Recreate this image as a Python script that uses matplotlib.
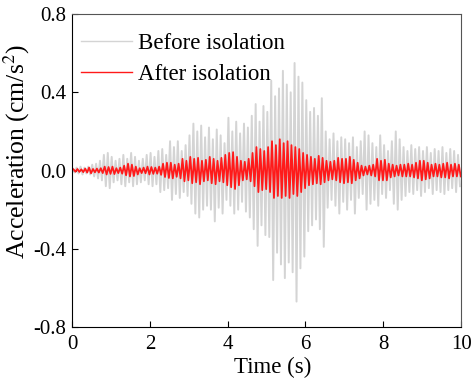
import numpy as np
import matplotlib
matplotlib.use("Agg")
import matplotlib.pyplot as plt

plt.rcParams['font.family'] = ['Liberation Serif', 'DejaVu Serif']
plt.rcParams['mathtext.fontset'] = 'stix'
plt.rcParams['axes.unicode_minus'] = False

# peak values read per 0.1 s bin (0.0-0.1, 0.1-0.2, ... 9.9-10.0)
before_top = [0.01, 0.015, 0.02, 0.015, 0.02, 0.03, 0.035, 0.05, 0.08, 0.09,
              0.07, 0.05, 0.06, 0.08, 0.06, 0.09, 0.07, 0.05, 0.06, 0.08,
              0.09, 0.07, 0.10, 0.11, 0.08, 0.15, 0.12, 0.15, 0.10, 0.13,
              0.18, 0.24, 0.20, 0.23, 0.17, 0.22, 0.16, 0.21, 0.18, 0.14,
              0.27, 0.20, 0.25, 0.19, 0.24, 0.22, 0.28, 0.34, 0.25, 0.33,
              0.30, 0.46, 0.38, 0.42, 0.51, 0.44, 0.40, 0.55, 0.48, 0.45,
              0.36, 0.30, 0.32, 0.28, 0.37, 0.20, 0.16, 0.19, 0.15, 0.17,
              0.16, 0.14, 0.17, 0.12, 0.15, 0.20, 0.18, 0.14, 0.12, 0.18,
              0.13, 0.10, 0.15, 0.20, 0.16, 0.12, 0.10, 0.13, 0.11, 0.12,
              0.10, 0.12, 0.09, 0.11, 0.10, 0.12, 0.09, 0.11, 0.10, 0.08]
before_bot = [-0.01, -0.015, -0.02, -0.015, -0.02, -0.03, -0.04, -0.05, -0.08, -0.09,
              -0.06, -0.05, -0.07, -0.08, -0.06, -0.08, -0.07, -0.06, -0.05, -0.07,
              -0.08, -0.07, -0.11, -0.10, -0.09, -0.15, -0.12, -0.14, -0.11, -0.13,
              -0.17, -0.22, -0.24, -0.20, -0.18, -0.20, -0.26, -0.19, -0.22, -0.15,
              -0.18, -0.22, -0.20, -0.16, -0.21, -0.24, -0.30, -0.385, -0.28, -0.33,
              -0.34, -0.56, -0.42, -0.48, -0.55, -0.47, -0.52, -0.67, -0.50, -0.44,
              -0.31, -0.28, -0.25, -0.30, -0.39, -0.19, -0.15, -0.18, -0.22, -0.16,
              -0.20, -0.15, -0.22, -0.14, -0.12, -0.20, -0.17, -0.15, -0.18, -0.12,
              -0.14, -0.10, -0.17, -0.20, -0.15, -0.13, -0.11, -0.12, -0.10, -0.13,
              -0.11, -0.09, -0.12, -0.10, -0.11, -0.12, -0.10, -0.09, -0.11, -0.08]
after_top = [0.006, 0.008, 0.006, 0.01, 0.015, 0.008, 0.01, 0.012, 0.02, 0.018,
             0.02, 0.012, 0.015, 0.025, 0.035, 0.03, 0.02, 0.012, 0.015, 0.02,
             0.018, 0.015, 0.02, 0.035, 0.04, 0.04, 0.03, 0.035, 0.06, 0.05,
             0.07, 0.06, 0.065, 0.05, 0.055, 0.07, 0.06, 0.05, 0.065, 0.08,
             0.09, 0.094, 0.07, 0.05, 0.045, 0.06, 0.09, 0.12, 0.11, 0.10,
             0.12, 0.15, 0.13, 0.16, 0.14, 0.15, 0.13, 0.12, 0.11, 0.09,
             0.08, 0.07, 0.06, 0.075, 0.065, 0.05, 0.045, 0.05, 0.065, 0.06,
             0.06, 0.07, 0.055, 0.04, 0.025, 0.02, 0.025, 0.03, 0.06, 0.05,
             0.055, 0.035, 0.03, 0.025, 0.03, 0.03, 0.035, 0.03, 0.04, 0.05,
             0.05, 0.04, 0.03, 0.035, 0.03, 0.035, 0.04, 0.03, 0.035, 0.03]
after_bot = [-0.006, -0.007, -0.008, -0.01, -0.014, -0.009, -0.01, -0.013, -0.02, -0.017,
             -0.018, -0.013, -0.016, -0.024, -0.03, -0.028, -0.02, -0.013, -0.014, -0.02,
             -0.017, -0.016, -0.022, -0.033, -0.038, -0.04, -0.032, -0.04, -0.055, -0.05,
             -0.065, -0.06, -0.07, -0.055, -0.05, -0.065, -0.07, -0.055, -0.06, -0.075,
             -0.085, -0.094, -0.075, -0.05, -0.045, -0.055, -0.08, -0.11, -0.10, -0.095,
             -0.11, -0.14, -0.13, -0.14, -0.13, -0.14, -0.12, -0.13, -0.11, -0.09,
             -0.075, -0.07, -0.065, -0.07, -0.06, -0.05, -0.045, -0.05, -0.06, -0.065,
             -0.06, -0.065, -0.05, -0.04, -0.025, -0.02, -0.025, -0.03, -0.05, -0.05,
             -0.05, -0.035, -0.03, -0.025, -0.03, -0.03, -0.03, -0.035, -0.04, -0.05,
             -0.045, -0.04, -0.03, -0.03, -0.035, -0.035, -0.04, -0.03, -0.03, -0.03]

bin_start = np.arange(len(before_top)) * 0.1


def zigzag(top, bot, shift):
    t = np.empty(2 * len(top))
    v = np.empty(2 * len(top))
    t[0::2] = bin_start + shift
    t[1::2] = bin_start + shift + 0.05
    v[0::2] = top
    v[1::2] = bot
    return t, v


fig = plt.figure(figsize=(4.72, 3.81), dpi=100)
ax = fig.add_axes([0.1525, 0.1417, 0.8245, 0.8213])

t1, v1 = zigzag(before_top, before_bot, 0.02)
t2, v2 = zigzag(after_top, after_bot, 0.04)
ax.plot(t1, v1, color='#d4d4d4', lw=1.4, label='Before isolation')
ax.plot(t2, v2, color='#ff1a1a', lw=1.3, label='After isolation')

ax.set_xlim(0, 10)
ax.set_ylim(-0.8, 0.8)
ax.set_xticks([0, 2, 4, 6, 8, 10])
ax.set_yticks([-0.8, -0.4, 0.0, 0.4, 0.8])
ax.set_yticklabels(['-0.8', '-0.4', '0.0', '0.4', '0.8'])
ax.tick_params(direction='in', length=4, labelsize=15, top=False, right=False)
ax.tick_params(axis='x', pad=6)
ax.tick_params(axis='y', pad=4)
ax.set_xlabel('Time (s)', fontsize=16.5)
ax.set_ylabel('Acceleration (cm/s$^2$)', fontsize=18.5)
ax.xaxis.set_label_coords(0.515, -0.095)
ax.yaxis.set_label_coords(-0.102, 0.56)
for s in ['top', 'right']:
    ax.spines[s].set_color('#555555')

leg = ax.legend(loc='upper left', bbox_to_anchor=(0.0, 0.968), frameon=False,
                fontsize=16.5, handlelength=2.2, handletextpad=0.3, labelspacing=0.4,
                borderpad=0.2, borderaxespad=0.2)
for h in leg.get_lines():
    h.set_linewidth(1.0)

fig.savefig('out.png', dpi=100)
